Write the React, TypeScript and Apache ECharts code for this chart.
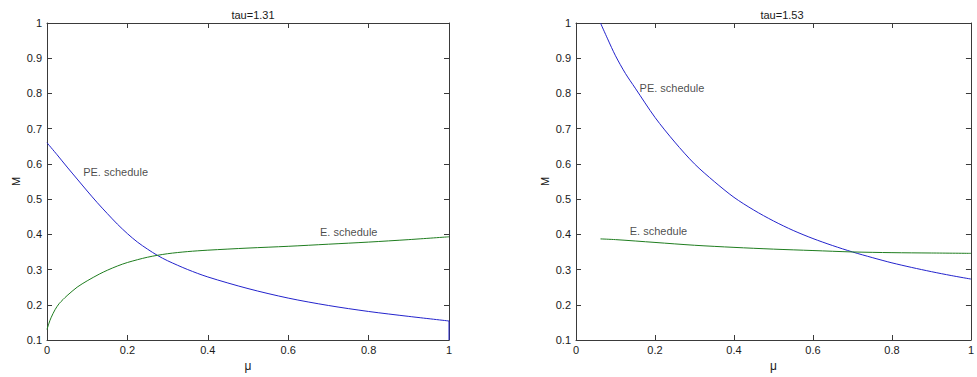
import React, { useEffect, useRef } from "react";
import * as echarts from "echarts";

// Left panel (tau = 1.31)
const muLeftPE = [0, 0.025, 0.05, 0.075, 0.1, 0.125, 0.15, 0.175, 0.2, 0.225, 0.25, 0.275, 0.3, 0.35, 0.4, 0.5, 0.6, 0.7, 0.8, 0.9, 1.0];
const mLeftPE = [0.66, 0.626, 0.591, 0.557, 0.523, 0.49, 0.459, 0.429, 0.402, 0.378, 0.358, 0.34, 0.325, 0.3, 0.279, 0.246, 0.219, 0.198, 0.181, 0.167, 0.154];
// Vertical drop of the PE curve at mu = 1
const muLeftDrop = [1.0, 1.0];
const mLeftDrop = [0.154, 0.1];
const muLeftE = [0, 0.005, 0.01, 0.02, 0.03, 0.04, 0.05, 0.075, 0.1, 0.13, 0.15, 0.175, 0.2, 0.25, 0.3, 0.35, 0.4, 0.5, 0.6, 0.7, 0.8, 0.9, 1.0];
const mLeftE = [0.13, 0.148, 0.163, 0.186, 0.203, 0.215, 0.226, 0.25, 0.268, 0.287, 0.298, 0.31, 0.32, 0.335, 0.345, 0.351, 0.355, 0.361, 0.366, 0.372, 0.378, 0.385, 0.393];

// Right panel (tau = 1.53)
const muRightPE = [0.062, 0.08, 0.1, 0.125, 0.15, 0.2, 0.25, 0.3, 0.35, 0.4, 0.45, 0.5, 0.55, 0.6, 0.65, 0.7, 0.75, 0.8, 0.85, 0.9, 0.95, 1.0];
const mRightPE = [1.0, 0.955, 0.907, 0.857, 0.815, 0.732, 0.662, 0.6, 0.55, 0.505, 0.469, 0.438, 0.411, 0.388, 0.368, 0.35, 0.334, 0.319, 0.306, 0.294, 0.283, 0.273];
const muRightE = [0.062, 0.1, 0.2, 0.3, 0.4, 0.5, 0.6, 0.7, 0.8, 0.9, 1.0];
const mRightE = [0.387, 0.385, 0.377, 0.369, 0.363, 0.358, 0.354, 0.35, 0.348, 0.347, 0.346];

const titles = ["tau=1.31", "tau=1.53"];
const xName = "\u03bc";
const yName = "M";

// Curve annotations: [mu, M, text]
const notesLeft: [number, number, string][] = [
  [0.09, 0.577, "PE. schedule"],
  [0.679, 0.406, "E. schedule"],
];
const notesRight: [number, number, string][] = [
  [0.161, 0.815, "PE. schedule"],
  [0.136, 0.41, "E. schedule"],
];

const FONT = "'Liberation Sans', Arial, sans-serif";
const AXIS_COLOR = "#3a3a3a";
const TEXT_COLOR = "#1a1a1a";
const BLUE = "#2323cc";
const GREEN = "#1f7d1f";

const zip = (xs: number[], ys: number[]) => xs.map((x, i) => [x, ys[i]]);
const fmt = (v: number) => String(Math.round(v * 10) / 10);

export default function App() {
  const ref = useRef<HTMLDivElement>(null);

  useEffect(() => {
    if (!ref.current) return;
    const chart = echarts.init(ref.current, undefined, { renderer: "svg" });

    const grids = [
      { left: 47, top: 23, width: 402, height: 317 },
      { left: 576, top: 23, width: 402, height: 317 },
    ];

    const xAxes: any[] = [];
    const yAxes: any[] = [];
    grids.forEach((_, g) => {
      const xBase = {
        type: "value",
        gridIndex: g,
        min: 0,
        max: 1,
        interval: 0.2,
        splitLine: { show: false },
        axisLine: { show: true, onZero: false, lineStyle: { color: AXIS_COLOR, width: 1 } },
        axisTick: { show: true, inside: true, length: 5, lineStyle: { color: AXIS_COLOR } },
      };
      xAxes.push({
        ...xBase,
        position: "bottom",
        name: xName,
        nameLocation: "middle",
        nameGap: 20,
        nameTextStyle: { fontFamily: FONT, fontSize: 12, color: TEXT_COLOR },
        axisLabel: { fontFamily: FONT, fontSize: 11, color: TEXT_COLOR, margin: 4, formatter: fmt },
      });
      xAxes.push({ ...xBase, position: "top", axisLabel: { show: false } });

      const yBase = {
        type: "value",
        gridIndex: g,
        min: 0.1,
        max: 1,
        interval: 0.1,
        splitLine: { show: false },
        axisLine: { show: true, onZero: false, lineStyle: { color: AXIS_COLOR, width: 1 } },
        axisTick: { show: true, inside: true, length: 5, lineStyle: { color: AXIS_COLOR } },
      };
      yAxes.push({
        ...yBase,
        position: "left",
        name: yName,
        nameLocation: "middle",
        nameGap: 26,
        nameTextStyle: { fontFamily: FONT, fontSize: 11, color: TEXT_COLOR },
        axisLabel: { fontFamily: FONT, fontSize: 11, color: TEXT_COLOR, margin: 5, formatter: fmt },
      });
      yAxes.push({ ...yBase, position: "right", axisLabel: { show: false } });
    });

    const line = (g: number, data: number[][], color: string, smooth = 0.3) => ({
      type: "line",
      xAxisIndex: g * 2,
      yAxisIndex: g * 2,
      data,
      showSymbol: false,
      symbol: "none",
      smooth,
      clip: true,
      lineStyle: { color, width: 1 },
      silent: true,
    });

    const notes = (g: number, items: [number, number, string][]) => ({
      type: "scatter",
      xAxisIndex: g * 2,
      yAxisIndex: g * 2,
      symbolSize: 0,
      silent: true,
      data: items.map(([x, y, t]) => ({ value: [x, y], name: t })),
      label: {
        show: true,
        position: "right",
        distance: 0,
        formatter: (p: any) => p.name,
        fontFamily: FONT,
        fontSize: 11,
        color: TEXT_COLOR,
      },
    });

    chart.setOption({
      animation: false,
      backgroundColor: "#ffffff",
      title: titles.map((t, i) => ({
        text: t,
        left: grids[i].left + grids[i].width / 2,
        top: 4,
        textAlign: "center",
        textStyle: { fontFamily: FONT, fontSize: 11, fontWeight: "normal", color: TEXT_COLOR },
      })),
      grid: grids,
      xAxis: xAxes,
      yAxis: yAxes,
      series: [
        line(0, zip(muLeftPE, mLeftPE), BLUE),
        line(0, zip(muLeftDrop, mLeftDrop), BLUE, 0),
        line(0, zip(muLeftE, mLeftE), GREEN),
        line(1, zip(muRightPE, mRightPE), BLUE),
        line(1, zip(muRightE, mRightE), GREEN),
        notes(0, notesLeft),
        notes(1, notesRight),
      ],
    });

    return () => chart.dispose();
  }, []);

  return (
    <div
      ref={ref}
      style={{ position: "absolute", left: 0, top: 0, width: 977, height: 377 }}
    />
  );
}
